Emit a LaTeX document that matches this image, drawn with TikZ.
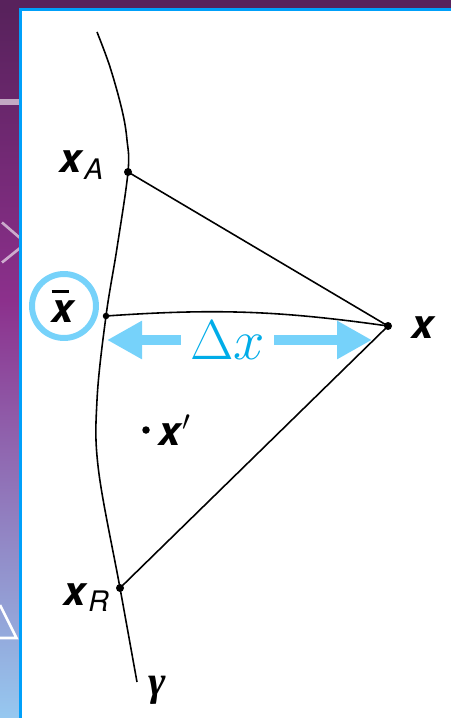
\documentclass[tikz,border=0pt]{standalone}
\usepackage{fix-cm}
\usepackage{amsmath}
\usepackage[no-math]{fontspec}
\setmainfont{TeX Gyre Heros}
\newfontfamily\gammafont{Liberation Serif}
\usetikzlibrary{arrows.meta}
\definecolor{slidetop}{RGB}{88,34,92}
\definecolor{slidemid}{RGB}{140,48,140}
\definecolor{slidelow}{RGB}{186,130,232}
\definecolor{slidebot}{RGB}{150,200,240}
\definecolor{borderclr}{RGB}{0,160,250}
\definecolor{ringclr}{RGB}{118,210,250}
\definecolor{dxclr}{RGB}{0,172,232}
\newcommand{\barx}{\makebox[0pt][l]{\raisebox{0.72em}{\rule{0.44em}{0.075em}}}\textbf{\textit{x}}}
\tikzset{
  pt/.style={circle, fill=black, inner sep=0pt, minimum size=0.16cm},
  curveline/.style={line width=0.9pt, black},
  lbl/.style={inner sep=0pt, font=\fontsize{23}{27}\selectfont},
  dxarrow/.style={draw=ringclr, line width=6pt, -{Triangle[length=0.70cm,width=0.72cm]}}
}

\begin{document}
\begin{tikzpicture}
  \useasboundingbox (0,0) rectangle (9.02,-14.36);
  % slide background
  \fill[slidetop] (0,0) rectangle (9.02,-0.19);
  \shade[top color=slidetop, bottom color=slidemid] (0,-0.19) rectangle (0.41,-6.00);
  \shade[top color=slidemid, middle color=slidelow, bottom color=slidebot] (0,-6.00) rectangle (0.41,-14.36);
  \draw[white, opacity=0.6, line width=3pt] (0,-2.04) -- (0.38,-2.04);
  \draw[white, opacity=0.6, line width=1.5pt] (0.04,-4.45) -- (0.40,-4.76) (0.04,-5.25) -- (0.40,-4.96);
  \draw[white, line width=1.5pt] (0,-12.10) -- (0.33,-12.76) -- (0,-12.76);
  \draw[borderclr, line width=1.2pt] (0.41,-14.36) -- (0.41,-0.19) -- (9.02,-0.19);

  % points
  \node[pt] (xA) at (2.56,-3.44) {};
  \node[pt, minimum size=0.13cm] (xbar) at (2.12,-6.32) {};
  \node[pt] (xR) at (2.40,-11.76) {};
  \node[pt] (X) at (7.76,-6.52) {};
  \node[pt, minimum size=0.15cm] (xp) at (2.92,-8.60) {};
  \coordinate (gtop) at (1.94,-0.64);
  \coordinate (gbot) at (2.74,-13.64);

  % curve gamma
  \draw[curveline] plot[smooth, tension=0.6] coordinates {(gtop) (2.20,-1.34) (2.44,-2.20) (2.54,-2.80) (xA.center) (2.34,-4.96) (xbar.center) (1.94,-8.00) (1.97,-9.40) (xR.center) (gbot)};

  % connectors to X
  \draw[curveline] (xA.center) -- (X.center);
  \draw[curveline] (xR.center) -- (X.center);
  \draw[curveline] (xbar.center) to[bend left=6] (X.center);

  % labels
  \node[lbl, anchor=base east] (lA) at (2.09,-3.46) {$\textbf{\textit{x}}_{\textit{A}}$};
  \node[lbl, anchor=base east] (lR) at (2.20,-12.10) {$\textbf{\textit{x}}_{\textit{R}}$};
  \node[lbl, anchor=base] (lX) at (8.48,-6.78) {\textbf{\textit{x}}};
  \node[lbl, anchor=base west] (lp) at (3.16,-8.90) {$\textbf{\textit{x}}'$};
  \node[lbl, circle, draw=ringclr, line width=3.4pt, minimum size=1.28cm] (lbar) at (1.28,-6.12) {\barx};
  \node[inner sep=0pt, font=\gammafont\bfseries\itshape\fontsize{24}{28}\selectfont] (lg) at (3.14,-13.80) {γ};

  % delta x
  \node[inner ysep=0pt, inner xsep=0.18cm, text=dxclr, font=\fontsize{32}{36}\selectfont] (dx) at (4.55,-6.80) {$\Delta x$};
  \coordinate (dl) at (2.14,-6.80);
  \coordinate (dr) at (7.44,-6.80);
  \draw[dxarrow] (dx.west) -- (dl);
  \draw[dxarrow] (dx.east) -- (dr);
\end{tikzpicture}
\end{document}
